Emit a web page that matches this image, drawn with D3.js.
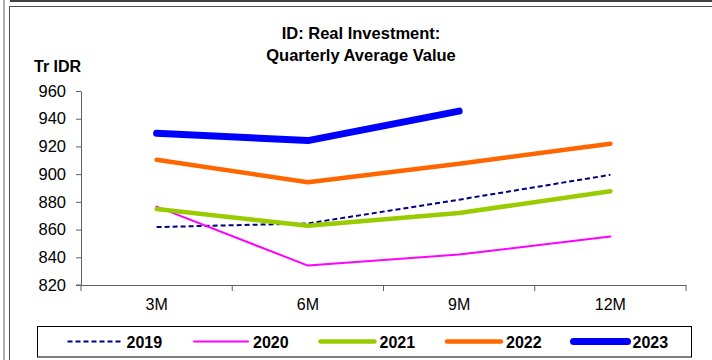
<!DOCTYPE html>
<html>
<head>
<meta charset="utf-8">
<script src="https://cdn.jsdelivr.net/npm/d3@7"></script>
<style>
  html, body { margin: 0; padding: 0; background: #fff; }
  svg { display: block; font-family: "Liberation Sans", Arial, sans-serif; }
</style>
</head>
<body>
<svg id="chart" width="712" height="360"></svg>
<script>
// Quarterly periods and average real investment (Tr IDR) per year
const periods = ["3M", "6M", "9M", "12M"];
const years = ["2019", "2020", "2021", "2022", "2023"];
const v2019 = [861.8, 864.4, 881.6, 899.5];
const v2020 = [876.6, 834.0, 842.0, 855.0];
const v2021 = [874.9, 862.8, 872.0, 887.7];
const v2022 = [910.4, 894.2, 907.5, 922.0];
const v2023 = [929.5, 924.2, 945.5];
const yTicks = [820, 840, 860, 880, 900, 920, 940, 960];

const seriesValues = [v2019, v2020, v2021, v2022, v2023];
const styles = [
  { color: "#000080", width: 2, dash: "5,3" },
  { color: "#FF00FF", width: 2, dash: null },
  { color: "#99CC00", width: 4.5, dash: null },
  { color: "#FF6600", width: 4.5, dash: null },
  { color: "#0000FF", width: 7, dash: null }
];

const svg = d3.select("#chart");

// Frame lines around the chart
svg.append("rect").attr("x", 3).attr("y", 0).attr("width", 2).attr("height", 360).attr("fill", "#b0b0b0");
svg.append("rect").attr("x", 10).attr("y", 0).attr("width", 702).attr("height", 2).attr("fill", "#404040");
svg.append("line").attr("x1", 10).attr("x2", 712).attr("y1", 6.5).attr("y2", 6.5).attr("stroke", "#505050");
svg.append("line").attr("x1", 9.5).attr("x2", 9.5).attr("y1", 6).attr("y2", 360).attr("stroke", "#505050");

const x = d3.scaleBand().domain(periods).range([81, 686]).padding(0);
const y = d3.scaleLinear().domain([820, 960]).range([285, 91]);

// Title
const title = svg.append("text").attr("text-anchor", "middle").attr("font-weight", "bold")
  .attr("font-size", 16.5).attr("fill", "#000");
title.append("tspan").attr("x", 361).attr("y", 39).text("ID: Real Investment:");
title.append("tspan").attr("x", 361).attr("y", 61).text("Quarterly Average Value");

svg.append("text").attr("x", 34).attr("y", 72).attr("font-weight", "bold").attr("font-size", 16)
  .text("Tr IDR");

// Y axis
const yAxis = d3.axisLeft(y).tickValues(yTicks).tickSize(5).tickSizeOuter(0).tickPadding(10)
  .tickFormat(d3.format("d"));
const gy = svg.append("g").attr("transform", "translate(81,0)").call(yAxis);
gy.select(".domain").attr("stroke", "#606060");
gy.selectAll(".tick line").attr("stroke", "#606060");
gy.selectAll(".tick text").attr("font-size", 16.5).attr("fill", "#000")
  .attr("font-family", "Liberation Sans, Arial, sans-serif");

// X axis: labels centered in each band, tick marks at band boundaries
const gx = svg.append("g").attr("transform", "translate(0,285)")
  .call(d3.axisBottom(x).tickSize(0).tickSizeOuter(0).tickPadding(14));
gx.select(".domain").attr("stroke", "#606060");
gx.selectAll(".tick text").attr("font-size", 16).attr("fill", "#000")
  .attr("font-family", "Liberation Sans, Arial, sans-serif");
const bounds = periods.map(p => x(p)).concat([x(periods[periods.length - 1]) + x.bandwidth()]);
svg.append("g").selectAll("line").data(bounds).join("line")
  .attr("x1", d => d).attr("x2", d => d).attr("y1", 285).attr("y2", 291)
  .attr("stroke", "#606060");
svg.append("line").attr("x1", 76).attr("x2", 81).attr("y1", 285).attr("y2", 285).attr("stroke", "#606060");

// Series lines
const line = d3.line()
  .x((d, i) => x(periods[i]) + x.bandwidth() / 2)
  .y(d => y(d));

seriesValues.forEach((vals, i) => {
  const s = styles[i];
  svg.append("path").datum(vals)
    .attr("d", line)
    .attr("fill", "none")
    .attr("stroke", s.color)
    .attr("stroke-width", s.width)
    .attr("stroke-linejoin", "round")
    .attr("stroke-linecap", s.dash ? "butt" : "round")
    .attr("stroke-dasharray", s.dash);
});

// Legend
svg.append("rect").attr("x", 37.5).attr("y", 326.5).attr("width", 654).attr("height", 30.5)
  .attr("fill", "#fff").attr("stroke", "#000");
const legend = svg.append("g").selectAll("g").data(years).join("g")
  .attr("transform", (d, i) => `translate(${67.5 + i * 126.5},341.5)`);
legend.append("line")
  .attr("x1", 0).attr("x2", 54).attr("y1", 0).attr("y2", 0)
  .attr("stroke", (d, i) => styles[i].color)
  .attr("stroke-width", (d, i) => styles[i].width)
  .attr("stroke-linecap", (d, i) => styles[i].dash ? "butt" : "round")
  .attr("stroke-dasharray", (d, i) => styles[i].dash);
legend.append("text")
  .attr("x", 59).attr("y", 6)
  .attr("font-weight", "bold").attr("font-size", 16)
  .text(d => d);
</script>
</body>
</html>
